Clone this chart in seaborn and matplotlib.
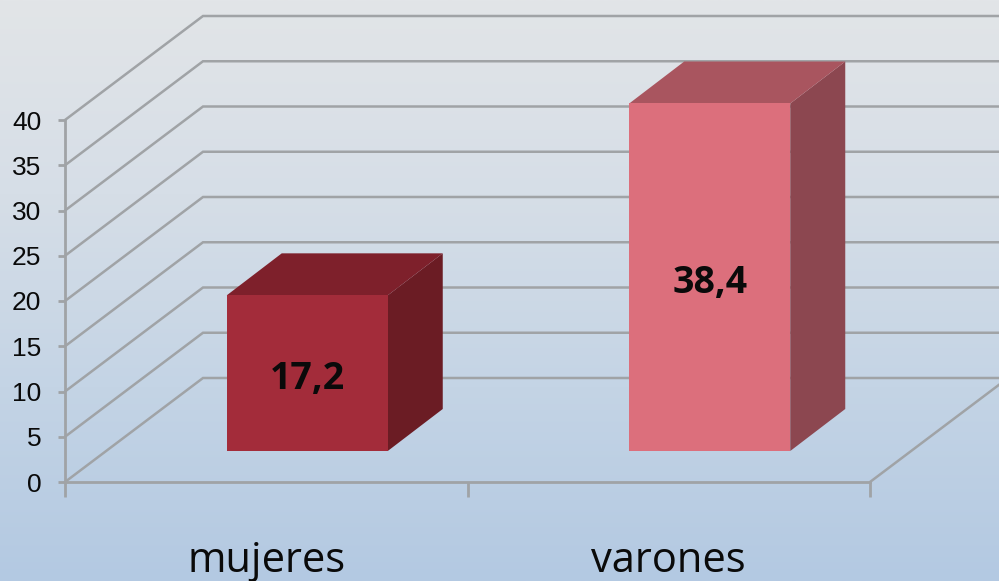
import matplotlib
matplotlib.use('Agg')
import matplotlib.pyplot as plt
from matplotlib.colors import LinearSegmentedColormap
from matplotlib.patches import Polygon
import numpy as np
import pandas as pd
import seaborn as sns

# Chart data
categories = ['mujeres', 'varones']
values = [17.2, 38.4]
value_labels = ['17,2', '38,4']
y_ticks = [0, 5, 10, 15, 20, 25, 30, 35, 40]

# Colours: front, top, side of each bar
front_colors = ['#a32c3a', '#dc6f7c']
top_colors = ['#7e202b', '#a9555f']
side_colors = ['#6b1c24', '#8c4750']
grid_color = '#a0a3a6'
text_color = '#0a0a0a'

sns.set_theme(style='white')

W, H = 999, 581
AX_LEFT, AX_RIGHT, AX_BOTTOM, AX_TOP = 65, 870, 482, 120  # pixels
BAR_SHIFT = (41, 31)  # bars stand this far behind the front axis
BAR_DEPTH = (55, 42)
WALL_DEPTH = (138, 104)

fig = plt.figure(figsize=(W / 100, H / 100), dpi=100)


def add_axes(left, right, bottom, top):
    return fig.add_axes([left / W, 1 - bottom / H, (right - left) / W, (bottom - top) / H])


# Background gradient
bg = fig.add_axes([0, 0, 1, 1], zorder=0)
cmap = LinearSegmentedColormap.from_list('bg', ['#e2e5e8', '#d6dee7', '#c4d4e5', '#b3c9e2'])
bg.imshow(np.linspace(0, 1, 256).reshape(-1, 1), cmap=cmap, aspect='auto', vmin=0, vmax=1)
bg.axis('off')

# Front axis with walls
ax = add_axes(AX_LEFT, AX_RIGHT, AX_BOTTOM, AX_TOP)
ax.set_zorder(1)
ax.patch.set_alpha(0)
ax.set_xlim(-0.5, 1.5)
ax.set_ylim(0, 40)
ax.set_yticks(y_ticks)
ax.set_xticks([-0.5, 0.5, 1.5])
ax.set_xticklabels([])
ax.set_xticks([0, 1], minor=True)
ax.set_xticklabels(categories, minor=True, fontsize=30, family='Open Sans', color=text_color)
ax.tick_params(axis='x', which='major', bottom=True, length=11, width=2, color=grid_color)
ax.tick_params(axis='x', which='minor', bottom=False, pad=38)
ax.tick_params(axis='y', left=True, length=5, width=2, color=grid_color, pad=12)
for lab in ax.get_yticklabels():
    lab.set_fontsize(19)
    lab.set_family('Liberation Sans')
    lab.set_color(text_color)
for name, spine in ax.spines.items():
    spine.set_visible(name in ('left', 'bottom'))
    spine.set_color(grid_color)
    spine.set_linewidth(2)

x_unit = (AX_RIGHT - AX_LEFT) / 2
y_unit = (AX_BOTTOM - AX_TOP) / 40
wall_dx = WALL_DEPTH[0] / x_unit
wall_dy = WALL_DEPTH[1] / y_unit
for v in y_ticks:
    # diagonal up the side wall, then along the back wall
    ax.plot([-0.5, -0.5 + wall_dx, 1.5 + wall_dx], [v, v + wall_dy, v + wall_dy],
            color=grid_color, lw=1.8, clip_on=False, solid_joinstyle='miter')
ax.plot([1.5, 1.5 + wall_dx], [0, wall_dy], color=grid_color, lw=1.8, clip_on=False)

# Bars, in their own axes shifted back from the front axis
ax_bars = add_axes(AX_LEFT + BAR_SHIFT[0], AX_RIGHT + BAR_SHIFT[0],
                   AX_BOTTOM - BAR_SHIFT[1], AX_TOP - BAR_SHIFT[1])
ax_bars.set_zorder(2)
ax_bars.patch.set_alpha(0)
df = pd.DataFrame({'sexo': categories, 'valor': values})
sns.barplot(data=df, x='sexo', y='valor', hue='sexo', palette=front_colors, legend=False,
            width=0.4, saturation=1, linewidth=0, ax=ax_bars, zorder=3)
ax_bars.set_xlim(-0.5, 1.5)
ax_bars.set_ylim(0, 40)
ax_bars.axis('off')

dx = BAR_DEPTH[0] / x_unit
dy = BAR_DEPTH[1] / y_unit
for i, v in enumerate(values):
    x0, x1 = i - 0.2, i + 0.2
    ax_bars.add_patch(Polygon([(x1, 0), (x1 + dx, dy), (x1 + dx, v + dy), (x1, v)],
                              closed=True, fc=side_colors[i], ec='none', clip_on=False, zorder=2))
    ax_bars.add_patch(Polygon([(x0, v), (x1, v), (x1 + dx, v + dy), (x0 + dx, v + dy)],
                              closed=True, fc=top_colors[i], ec='none', clip_on=False, zorder=2))

for i, container in enumerate(ax_bars.containers):
    texts = ax_bars.bar_label(container, labels=[value_labels[i]], label_type='center', fontsize=27,
                              fontweight='bold', family='Open Sans', color=text_color)
    for t in texts:
        t.xyann = (0, -4.5)  # sit a little below the centre of the bar

fig.savefig('out.png', dpi=100)
